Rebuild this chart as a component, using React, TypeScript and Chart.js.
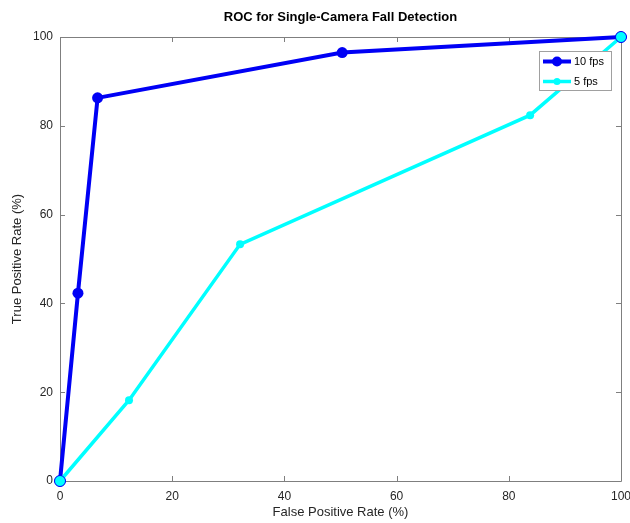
import React, { useEffect, useRef } from "react";
import { Chart, registerables } from "chart.js";

Chart.register(...registerables);

const title = "ROC for Single-Camera Fall Detection";
const xLabel = "False Positive Rate (%)";
const yLabel = "True Positive Rate (%)";
const seriesNames = ["10 fps", "5 fps"];
const fps10X = [0, 3.2, 6.7, 50.3, 100];
const fps10Y = [0, 42.3, 86.3, 96.5, 100];
const fps5X = [0, 12.3, 32.1, 83.8, 100];
const fps5Y = [0, 18.2, 53.3, 82.4, 100];
const tickValues = [0, 20, 40, 60, 80, 100];

const BLUE = "#0000f5";
const CYAN = "#00ffff";
const AXIS = "#262626";
const FONT = "'Liberation Sans', Arial, Helvetica, sans-serif";

const boxPlugin = {
  id: "boxPlugin",
  beforeDatasetsDraw(chart: any) {
    const { ctx, chartArea } = chart;
    const { left, right, top, bottom } = chartArea;
    const xs = chart.scales.x;
    const ys = chart.scales.y;
    ctx.save();
    ctx.strokeStyle = "#7f7f7f";
    ctx.lineWidth = 1;
    ctx.beginPath();
    ctx.rect(Math.round(left) + 0.5, Math.round(top) + 0.5, Math.round(right - left), Math.round(bottom - top));
    ctx.stroke();
    const tl = 5;
    ctx.beginPath();
    tickValues.forEach((v) => {
      const px = Math.round(xs.getPixelForValue(v)) + 0.5;
      ctx.moveTo(px, bottom);
      ctx.lineTo(px, bottom - tl);
      ctx.moveTo(px, top);
      ctx.lineTo(px, top + tl);
      const py = Math.round(ys.getPixelForValue(v)) + 0.5;
      ctx.moveTo(left, py);
      ctx.lineTo(left + tl, py);
      ctx.moveTo(right, py);
      ctx.lineTo(right - tl, py);
    });
    ctx.stroke();
    ctx.restore();
  },
  afterDraw(chart: any) {
    const { ctx, chartArea } = chart;
    const { left, right, top } = chartArea;
    ctx.save();
    // title
    ctx.fillStyle = "#000";
    ctx.font = `bold 13px ${FONT}`;
    ctx.textAlign = "center";
    ctx.textBaseline = "middle";
    ctx.fillText(title, (left + right) / 2, 17);

    // legend
    const lx = right - 82;
    const ly = top + 14;
    const lw = 72;
    const lh = 39;
    ctx.fillStyle = "#fff";
    ctx.fillRect(lx, ly, lw, lh);
    ctx.strokeStyle = "#a0a0a0";
    ctx.lineWidth = 1;
    ctx.strokeRect(lx + 0.5, ly + 0.5, lw, lh);
    const entries = [
      { name: seriesNames[0], color: BLUE, w: 4, r: 5 },
      { name: seriesNames[1], color: CYAN, w: 3.5, r: 3.5 },
    ];
    entries.forEach((e, i) => {
      const yy = ly + 10.5 + i * 20;
      ctx.strokeStyle = e.color;
      ctx.lineWidth = e.w;
      ctx.beginPath();
      ctx.moveTo(lx + 4, yy);
      ctx.lineTo(lx + 32, yy);
      ctx.stroke();
      ctx.fillStyle = e.color;
      ctx.beginPath();
      ctx.arc(lx + 18, yy, e.r, 0, Math.PI * 2);
      ctx.fill();
      ctx.fillStyle = "#000";
      ctx.font = `11px ${FONT}`;
      ctx.textAlign = "left";
      ctx.textBaseline = "middle";
      ctx.fillText(e.name, lx + 35, yy);
    });
    ctx.restore();
  },
};

export default function App() {
  const ref = useRef<HTMLCanvasElement>(null);
  useEffect(() => {
    document.body.style.margin = "0";
    const c = ref.current!;
    const chart = new Chart(c, {
      type: "line",
      data: {
        datasets: [
          {
            label: seriesNames[0],
            data: fps10X.map((x, i) => ({ x, y: fps10Y[i] })),
            borderColor: BLUE,
            backgroundColor: BLUE,
            borderWidth: 4,
            pointRadius: 5.5,
            pointBorderWidth: 0,
            pointBackgroundColor: BLUE,
            tension: 0,
            clip: false,
            order: 2,
          },
          {
            label: seriesNames[1],
            data: fps5X.map((x, i) => ({ x, y: fps5Y[i] })),
            borderColor: CYAN,
            backgroundColor: CYAN,
            borderWidth: 3.5,
            pointRadius: [5.5, 4, 4, 4, 5.5],
            pointBorderWidth: [1, 0, 0, 0, 1],
            pointBorderColor: BLUE,
            pointBackgroundColor: CYAN,
            tension: 0,
            clip: false,
            order: 1,
          },
        ],
      },
      options: {
        responsive: false,
        animation: false,
        events: [],
        layout: { padding: { top: 37, right: 9, left: 0, bottom: 0 } },
        plugins: {
          legend: { display: false },
          title: { display: false },
          tooltip: { enabled: false },
        },
        scales: {
          x: {
            type: "linear",
            min: 0,
            max: 100,
            grid: { display: false, drawTicks: false, tickLength: 0 },
            border: { display: false },
            afterBuildTicks: (s: any) => {
              s.ticks = tickValues.map((v) => ({ value: v }));
            },
            afterFit: (s: any) => {
              s.height = 42;
              s.paddingLeft = 0;
              s.paddingRight = 0;
            },
            ticks: {
              color: AXIS,
              font: { family: FONT, size: 12 },
              padding: 8,
              maxRotation: 0,
            },
            title: {
              display: true,
              text: xLabel,
              color: AXIS,
              font: { family: FONT, size: 13 },
              padding: { top: 0, bottom: 3 },
            },
          },
          y: {
            type: "linear",
            min: 0,
            max: 100,
            grid: { display: false, drawTicks: false, tickLength: 0 },
            border: { display: false },
            afterBuildTicks: (s: any) => {
              s.ticks = tickValues.map((v) => ({ value: v }));
            },
            afterFit: (s: any) => {
              s.width = 60;
              s.paddingTop = 0;
              s.paddingBottom = 0;
            },
            ticks: {
              color: AXIS,
              font: { family: FONT, size: 12 },
              padding: 7,
            },
            title: {
              display: true,
              text: yLabel,
              color: AXIS,
              font: { family: FONT, size: 13 },
              padding: { top: 10, bottom: 0 },
            },
          },
        },
      },
      plugins: [boxPlugin],
    });
    return () => chart.destroy();
  }, []);
  return <canvas ref={ref} width={630} height={523} style={{ display: "block" }} />;
}
